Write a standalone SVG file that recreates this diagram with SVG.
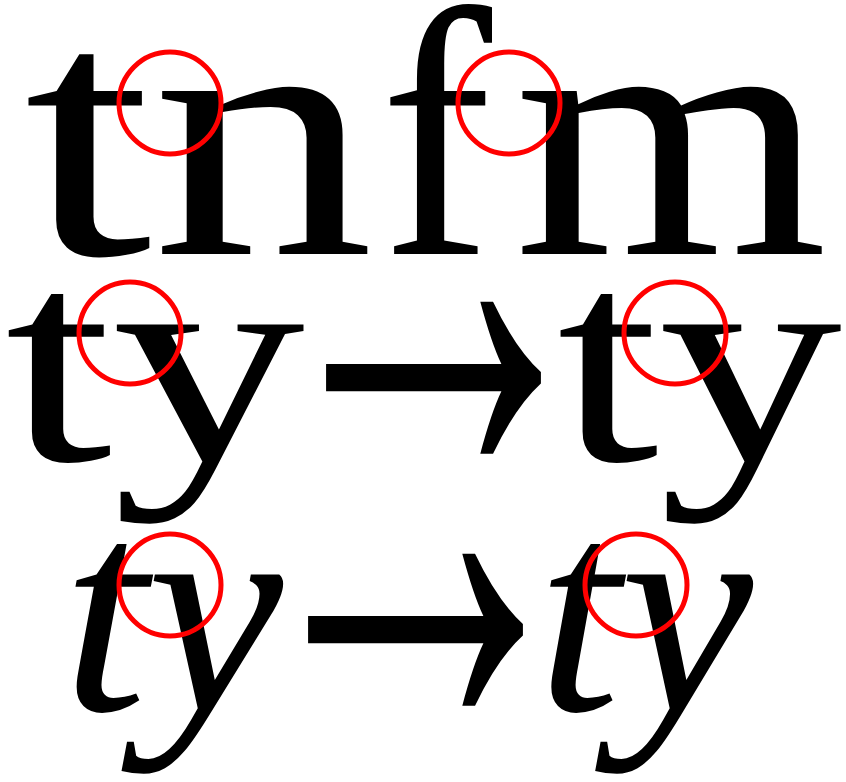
<svg xmlns="http://www.w3.org/2000/svg" width="846" height="782" viewBox="0 0 846 782">
<style>
.g{font-family:"Liberation Serif","Times New Roman",serif;fill:#000}
.i{font-style:italic}
.a{font-family:"Liberation Serif","Times New Roman",serif;fill:#000}
.c{fill:none;stroke:#f00;stroke-width:5}
</style>
<rect width="846" height="782" fill="#fff"/>
<g id="row1" class="g" font-size="355">
<text x="24" y="254" textLength="128" lengthAdjust="spacingAndGlyphs">t</text>
<text x="152" y="254" textLength="222" lengthAdjust="spacingAndGlyphs">n</text>
<text x="380" y="254" textLength="112" lengthAdjust="spacingAndGlyphs">f</text>
<text x="514" y="254" textLength="314" lengthAdjust="spacingAndGlyphs">m</text>
</g>
<g id="row2">
<text class="g" x="5" y="460" font-size="295" textLength="300" lengthAdjust="spacingAndGlyphs">ty</text>
<g transform="translate(0,380) scale(1,2.7)">
<text class="a" x="252" y="39" font-size="240" textLength="363" lengthAdjust="spacingAndGlyphs">→</text>
</g>
<text class="g" x="557" y="460" font-size="295" textLength="285" lengthAdjust="spacingAndGlyphs">ty</text>
</g>
<g id="row3">
<text class="g i" x="62" y="710" font-size="295" textLength="221" lengthAdjust="spacingAndGlyphs">ty</text>
<g transform="translate(0,632) scale(1,2.7)">
<text class="a" x="234" y="39" font-size="240" textLength="363" lengthAdjust="spacingAndGlyphs">→</text>
</g>
<text class="g i" x="537" y="710" font-size="295" textLength="216" lengthAdjust="spacingAndGlyphs">ty</text>
</g>
<g id="circles">
<circle class="c" cx="170" cy="103" r="51"/>
<circle class="c" cx="509" cy="103" r="51"/>
<circle class="c" cx="130" cy="333" r="51"/>
<circle class="c" cx="675" cy="333" r="51"/>
<circle class="c" cx="170" cy="585" r="51"/>
<circle class="c" cx="636" cy="585" r="51"/>
</g>
</svg>
